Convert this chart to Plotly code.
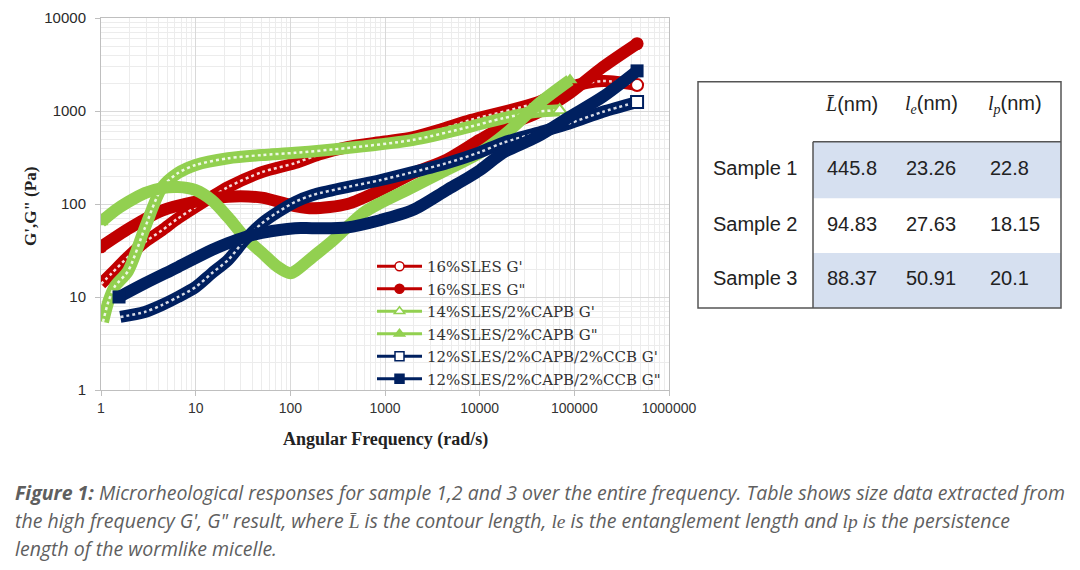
import plotly.graph_objects as go

# ---------------- data ----------------
# 16%SLES
w_s1_gp = [1, 1.3, 1.93, 3, 4.4, 6.5, 10, 22, 50, 112, 200, 400, 1000, 2000, 4000, 8000, 40000, 90000, 200000, 460000]
g_s1_gp = [13.8, 18, 27, 40, 52, 70, 93, 152, 220, 275, 340, 410, 470, 525, 640, 800, 1230, 1800, 2100, 1900]
w_s1_gpp = [1, 2, 4.4, 10, 22, 50, 112, 173, 400, 880, 2000, 4500, 10000, 17600, 40000, 90000, 200000, 460000]
g_s1_gpp = [34.6, 55, 85, 106, 120, 117, 95, 90, 100, 140, 215, 300, 490, 675, 950, 1560, 2970, 5300]
# 14%SLES/2%CAPB
w_s2_gp = [1.05, 1.2, 1.4, 1.93, 2.9, 4.4, 6.5, 10, 22, 50, 112, 400, 2000, 7800, 17600, 40000, 70000]
g_s2_gp = [5.4, 9, 13, 19, 55, 150, 215, 263, 310, 336, 355, 400, 490, 675, 835, 980, 1020]
w_s2_gpp = [1, 1.4, 1.93, 2.9, 4.4, 6.5, 10, 14.8, 22, 33, 50, 74, 100, 117, 173, 262, 396, 585, 884, 1960, 4480, 10000, 19300, 43300, 90000]
g_s2_gpp = [64, 85, 105, 131, 148, 152, 141, 110, 72, 44, 30, 21, 18, 19.5, 27, 38, 56, 80, 102, 152, 233, 355, 580, 1230, 2150]
# 12%SLES/2%CAPB/2%CCB
w_s3_gp = [1.6, 2.9, 4.4, 6.5, 10, 14.8, 22, 33, 50, 74, 112, 173, 396, 884, 1960, 4480, 10000, 17600, 40000, 90000, 200000, 460000]
g_s3_gp = [6.1, 6.9, 8.2, 10, 12.8, 18, 25, 41, 62, 82, 105, 125, 152, 180, 220, 275, 360, 455, 580, 740, 980, 1250]
w_s3_gpp = [1.55, 2.9, 6.5, 14.8, 22, 33, 50, 112, 173, 396, 884, 1960, 4480, 10000, 17600, 40000, 90000, 200000, 460000]
g_s3_gpp = [10, 14, 21, 32, 38, 44, 49, 55, 55, 56, 67, 86, 141, 230, 355, 525, 870, 1420, 2700]

series_names = ["16%SLES G'", '16%SLES G"', "14%SLES/2%CAPB G'", '14%SLES/2%CAPB G"',
                "12%SLES/2%CAPB/2%CCB G'", '12%SLES/2%CAPB/2%CCB G"']
series_x = [w_s1_gp, w_s1_gpp, w_s2_gp, w_s2_gpp, w_s3_gp, w_s3_gpp]
series_y = [g_s1_gp, g_s1_gpp, g_s2_gp, g_s2_gpp, g_s3_gp, g_s3_gpp]
series_colors = ["#c00000", "#c00000", "#92d050", "#92d050", "#002060", "#002060"]
series_symbols = ["circle", "circle", "triangle-up", "triangle-up", "square", "square"]
series_open = [True, False, True, False, True, False]

x_tick_vals = [1, 10, 100, 1000, 10000, 100000, 1000000]
x_tick_text = ["1", "10", "100", "1000", "10000", "100000", "1000000"]
y_tick_vals = [1, 10, 100, 1000, 10000]
y_tick_text = ["1", "10", "100", "1000", "10000"]

table_cols = ['<i>L\u0304</i>', '<i>l<sub>e</sub></i>', '<i>l<sub>p</sub></i>']
table_rows = ["Sample 1", "Sample 2", "Sample 3"]
table_L = ["445.8", "94.83", "88.37"]
table_le = ["23.26", "27.63", "50.91"]
table_lp = ["22.8", "18.15", "20.1"]

caption_lines = [
    "<b>Figure 1:</b> Microrheological responses for sample 1,2 and 3 over the entire frequency. Table shows size data extracted from",
    "the high frequency G', G\" result, where <span style=\"font-family:'Liberation Serif'\">L\u0304</span> is the contour length, "
    "<span style=\"font-family:'Liberation Serif'\">le</span> is the entanglement length and "
    "<span style=\"font-family:'Liberation Serif'\">lp</span> is the persistence",
    "length of the wormlike micelle.",
]

# ---------------- layout helpers (pixel -> paper) ----------------
PL, PR, PT, PB = 101, 669, 18, 390
def xp(px):
    return (px - PL) / (PR - PL)
def yp(py):
    return (PB - py) / (PB - PT)

fig = go.Figure()

for name, xs, ys, col, sym, op in zip(series_names, series_x, series_y, series_colors, series_symbols, series_open):
    fig.add_trace(go.Scatter(
        x=xs, y=ys, mode="lines", line=dict(color=col, width=12, shape="spline", smoothing=0.8),
        showlegend=False, hoverinfo="skip"))
    if op:
        fig.add_trace(go.Scatter(
            x=xs, y=ys, mode="lines", line=dict(color="rgba(255,255,255,0.85)", width=2.5, dash="dot",
                                                shape="spline", smoothing=0.8),
            showlegend=False, hoverinfo="skip"))
        fig.add_trace(go.Scatter(
            x=[xs[-1]], y=[ys[-1]], mode="markers",
            marker=dict(symbol=sym, size=12, color="white", line=dict(color=col, width=2)),
            showlegend=False, hoverinfo="skip"))
    else:
        fig.add_trace(go.Scatter(
            x=[xs[0], xs[-1]], y=[ys[0], ys[-1]], mode="markers",
            marker=dict(symbol=sym, size=13, color=col),
            showlegend=False, hoverinfo="skip"))

# legend entries
for name, col, sym, op in zip(series_names, series_colors, series_symbols, series_open):
    fig.add_trace(go.Scatter(
        x=[None], y=[None], mode="lines+markers", name=name,
        line=dict(color=col, width=3),
        marker=dict(symbol=sym, size=9, color="white" if op else col, line=dict(color=col, width=1.5))))

grid_major = "#d9d9d9"
grid_minor = "#ececec"

fig.update_xaxes(
    type="log", range=[0, 6], tickvals=x_tick_vals, ticktext=x_tick_text,
    showgrid=True, gridcolor=grid_major, gridwidth=1,
    minor=dict(dtick="D1", showgrid=True, gridcolor=grid_minor, ticks=""),
    showline=True, linecolor="#bfbfbf", linewidth=1, mirror=True,
    ticks="outside", ticklen=5, tickcolor="#bfbfbf",
    tickfont=dict(family="Liberation Sans", size=14, color="#333333"),
    zeroline=False,
)
fig.update_yaxes(
    type="log", range=[0, 4], tickvals=y_tick_vals, ticktext=y_tick_text,
    showgrid=True, gridcolor=grid_major, gridwidth=1,
    minor=dict(dtick="D1", showgrid=True, gridcolor=grid_minor, ticks=""),
    showline=True, linecolor="#bfbfbf", linewidth=1, mirror=True,
    ticks="outside", ticklen=5, tickcolor="#bfbfbf",
    tickfont=dict(family="Liberation Sans", size=15, color="#2a2a2a"),
    ticklabelstandoff=6,
    zeroline=False,
)

shapes = []
# table fills
for (y0, y1) in [(141.7, 198.3), (253, 308)]:
    shapes.append(dict(type="rect", xref="paper", yref="paper", x0=xp(813), x1=xp(1061), y0=yp(y1), y1=yp(y0),
                       fillcolor="#d6e0f0", line=dict(width=0), layer="above"))
shapes.append(dict(type="rect", xref="paper", yref="paper", x0=xp(698), x1=xp(1061), y0=yp(308), y1=yp(81.7),
                   line=dict(color="#555555", width=1.5), layer="above"))
shapes.append(dict(type="line", xref="paper", yref="paper", x0=xp(813), x1=xp(813), y0=yp(308), y1=yp(141.7),
                   line=dict(color="#555555", width=1.5), layer="above"))
shapes.append(dict(type="line", xref="paper", yref="paper", x0=xp(813), x1=xp(1061), y0=yp(141.7), y1=yp(141.7),
                   line=dict(color="#555555", width=1.5), layer="above"))

ann = []
tfont = dict(family="Liberation Sans", size=20, color="#222222")
hdr_x = [851, 931, 1015]
for cx, h in zip(hdr_x, table_cols):
    ann.append(dict(xref="paper", yref="paper", x=xp(cx), y=yp(104), xanchor="center", yanchor="middle",
                    text=f"<span style=\"font-family:'Liberation Serif'\">{h}</span>(nm)", showarrow=False, font=tfont))
row_y = [168, 224, 278]
for ry, rlab, a, b, c in zip(row_y, table_rows, table_L, table_le, table_lp):
    ann.append(dict(xref="paper", yref="paper", x=xp(755), y=yp(ry), xanchor="center", yanchor="middle",
                    text=rlab, showarrow=False, font=tfont))
    for vx, v in zip([825, 904, 988], [a, b, c]):
        ann.append(dict(xref="paper", yref="paper", x=xp(vx), y=yp(ry), xanchor="left", yanchor="middle",
                        text=v, showarrow=False, font=tfont))

# axis titles
ann.append(dict(xref="paper", yref="paper", x=xp(385), y=yp(440), xanchor="center", yanchor="middle",
                text="<b>Angular Frequency (rad/s)</b>", showarrow=False,
                font=dict(family="Liberation Serif", size=18, color="#222222")))
ann.append(dict(xref="paper", yref="paper", x=xp(30), y=yp(207), xanchor="center", yanchor="middle",
                text="<b>G',G\" (Pa)</b>", showarrow=False, textangle=-90,
                font=dict(family="Liberation Serif", size=17, color="#222222")))

# caption
for cy, line in zip([492, 520, 548], caption_lines):
    ann.append(dict(xref="paper", yref="paper", x=xp(13), y=yp(cy), xanchor="left", yanchor="middle",
                    text=f"<i>{line}</i>", showarrow=False,
                    font=dict(family="Open Sans", size=19.5, color="#5f5f5f")))

fig.update_layout(
    width=1080, height=570,
    margin=dict(l=PL, r=1080 - PR, t=PT, b=570 - PB, autoexpand=False),
    paper_bgcolor="white", plot_bgcolor="white",
    shapes=shapes, annotations=ann,
    legend=dict(x=xp(372), y=yp(250), xanchor="left", yanchor="top", bgcolor="rgba(0,0,0,0)",
                font=dict(family="DejaVu Serif", size=15, color="#333333"),
                itemwidth=45, tracegroupgap=0),
)

fig.write_html("out.html")
